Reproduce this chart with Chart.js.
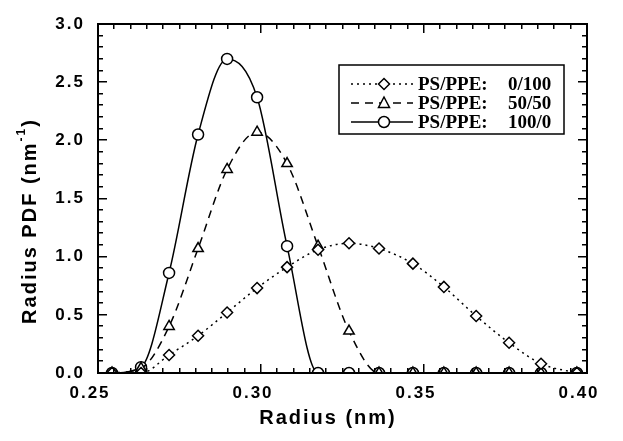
<!DOCTYPE html>
<html>
<head>
<meta charset="utf-8">
<script src="https://cdn.jsdelivr.net/npm/chart.js@4/dist/chart.umd.min.js"></script>
<style>
  html, body { margin: 0; padding: 0; background: #fff; }
  #wrap { width: 623px; height: 441px; }
</style>
</head>
<body>
<div id="wrap"><canvas id="myChart" width="623" height="441"></canvas></div>
<script>
// DATA
const radius = [0.2543, 0.2632, 0.2718, 0.2807, 0.2896, 0.2988, 0.3080, 0.3175,
                0.3270, 0.3362, 0.3466, 0.3561, 0.3660, 0.3761, 0.3859, 0.3969];
const pdf_0_100 = [0, 0, 0.155, 0.32, 0.52, 0.73, 0.91, 1.06, 1.115, 1.07, 0.94, 0.74, 0.49, 0.26, 0.08, 0];
const pdf_50_50 = [0, 0.04, 0.40, 1.07, 1.75, 2.07, 1.80, 1.09, 0.36, 0, 0, 0, 0, 0, 0, 0];
const pdf_100_0 = [0, 0.05, 0.86, 2.05, 2.70, 2.37, 1.09, 0, 0, 0, 0, 0, 0, 0, 0, 0];
const seriesNames = ['0/100', '50/50', '100/0'];
const xTicks = [0.25, 0.30, 0.35, 0.40];
const yTicks = [0.0, 0.5, 1.0, 1.5, 2.0, 2.5, 3.0];

function toPoints(vals) {
    return radius.map((r, i) => ({ x: r, y: vals[i] }));
}

// marker drawing for the legend box
function drawMarker(ctx, style, x, y) {
    ctx.save();
    ctx.fillStyle = '#fff';
    ctx.strokeStyle = '#000';
    ctx.lineWidth = 1.5;
    ctx.setLineDash([]);
    ctx.beginPath();
    if (style === 'circle') {
        ctx.arc(x, y, 5.5, 0, Math.PI * 2);
    } else if (style === 'triangle') {
        ctx.moveTo(x, y - 6);
        ctx.lineTo(x + 5.5, y + 4.5);
        ctx.lineTo(x - 5.5, y + 4.5);
        ctx.closePath();
    } else {
        ctx.moveTo(x, y - 5.5);
        ctx.lineTo(x + 5.5, y);
        ctx.lineTo(x, y + 5.5);
        ctx.lineTo(x - 5.5, y);
        ctx.closePath();
    }
    ctx.fill();
    ctx.stroke();
    ctx.restore();
}

// frame + inward ticks
const framePlugin = {
    id: 'frame',
    afterDraw(chart) {
        const ctx = chart.ctx;
        const a = chart.chartArea;
        const xs = chart.scales.x, ys = chart.scales.y;
        const L = Math.round(a.left), R = Math.round(a.right);
        const T = Math.round(a.top), B = Math.round(a.bottom);
        ctx.save();
        ctx.fillStyle = '#000';
        // box
        ctx.fillRect(L - 1, T - 1, R - L + 2, 2);
        ctx.fillRect(L - 1, B - 1, R - L + 2, 2);
        ctx.fillRect(L - 1, T - 1, 2, B - T + 2);
        ctx.fillRect(R - 1, T - 1, 2, B - T + 2);
        // x ticks: minor every 0.005, major every 0.05
        for (let i = 0; i <= 30; i++) {
            const px = Math.round(xs.getPixelForValue(0.25 + i * 0.005));
            const len = (i % 10 === 0) ? 9 : 5;
            ctx.fillRect(px - 1, B - len, 1.5, len);
            ctx.fillRect(px - 1, T, 1.5, len);
        }
        // y ticks: minor every 0.1, major every 0.5
        for (let i = 0; i <= 30; i++) {
            const py = Math.round(ys.getPixelForValue(i * 0.1));
            const len = (i % 5 === 0) ? 9 : 5;
            ctx.fillRect(L, py - 1, len, 1.5);
            ctx.fillRect(R - len, py - 1, len, 1.5);
        }
        ctx.restore();
    }
};

// axis titles and legend box
const decorPlugin = {
    id: 'decor',
    beforeDraw(chart) {
        chart.ctx.letterSpacing = '2px';
    },
    afterDraw(chart) {
        const ctx = chart.ctx;
        ctx.save();
        ctx.fillStyle = '#000';
        ctx.strokeStyle = '#000';
        ctx.letterSpacing = '2px';
        ctx.font = 'bold 20px "Liberation Sans", Arial, sans-serif';
        ctx.textAlign = 'center';
        ctx.textBaseline = 'middle';
        ctx.fillText('Radius (nm)', 328, 418);

        ctx.save();
        ctx.translate(30, 221);
        ctx.rotate(-Math.PI / 2);
        const main = 'Radius PDF (nm';
        const sup = '-1';
        const close = ')';
        ctx.font = 'bold 20px "Liberation Sans", Arial, sans-serif';
        const w1 = ctx.measureText(main).width;
        const w3 = ctx.measureText(close).width;
        ctx.font = 'bold 12px "Liberation Sans", Arial, sans-serif';
        const w2 = ctx.measureText(sup).width;
        const x0 = -(w1 + w2 + w3) / 2;
        ctx.textAlign = 'left';
        ctx.font = 'bold 20px "Liberation Sans", Arial, sans-serif';
        ctx.fillText(main, x0, 0);
        ctx.font = 'bold 12px "Liberation Sans", Arial, sans-serif';
        ctx.fillText(sup, x0 + w1, -8);
        ctx.font = 'bold 20px "Liberation Sans", Arial, sans-serif';
        ctx.fillText(close, x0 + w1 + w2, 0);
        ctx.restore();

        // legend box
        ctx.letterSpacing = '0px';
        ctx.lineWidth = 1.5;
        ctx.setLineDash([]);
        ctx.strokeRect(339, 65, 225, 69);
        const rows = [84, 103, 122];
        chart.data.datasets.forEach((ds, i) => {
            const y = rows[i];
            ctx.save();
            ctx.lineWidth = ds.borderWidth;
            ctx.setLineDash(ds.borderDash || []);
            ctx.beginPath();
            ctx.moveTo(351, y); ctx.lineTo(413, y);
            ctx.stroke();
            ctx.restore();
            drawMarker(ctx, ds.pointStyle, 384, y);
            ctx.fillStyle = '#000';
            ctx.font = 'bold 19px "Liberation Serif", "Times New Roman", serif';
            ctx.textAlign = 'left';
            ctx.textBaseline = 'middle';
            ctx.fillText('PS/PPE:', 418, y + 1);
            ctx.fillText(seriesNames[i], 508, y + 1);
        });
        ctx.restore();
    }
};

const tickFont = { family: '"Liberation Sans", Arial, sans-serif', size: 17, weight: 'bold' };

const ctx = document.getElementById('myChart').getContext('2d');
const myChart = new Chart(ctx, {
    type: 'line',
    data: {
        datasets: [
            {
                label: 'PS/PPE: ' + seriesNames[0],
                data: toPoints(pdf_0_100),
                borderColor: '#000',
                borderWidth: 1.5,
                borderDash: [2, 4],
                pointStyle: 'rectRot',
                pointRadius: 5.5,
                pointBackgroundColor: '#fff',
                pointBorderColor: '#000',
                pointBorderWidth: 1.5
            },
            {
                label: 'PS/PPE: ' + seriesNames[1],
                data: toPoints(pdf_50_50),
                borderColor: '#000',
                borderWidth: 1.5,
                borderDash: [8, 6],
                pointStyle: 'triangle',
                pointRadius: 6,
                pointBackgroundColor: '#fff',
                pointBorderColor: '#000',
                pointBorderWidth: 1.5
            },
            {
                label: 'PS/PPE: ' + seriesNames[2],
                data: toPoints(pdf_100_0),
                borderColor: '#000',
                borderWidth: 1.5,
                pointStyle: 'circle',
                pointRadius: 5.5,
                pointBackgroundColor: '#fff',
                pointBorderColor: '#000',
                pointBorderWidth: 1.5
            }
        ]
    },
    options: {
        responsive: false,
        animation: false,
        devicePixelRatio: 1,
        layout: { padding: { top: 24, right: 36, left: 0, bottom: 0 } },
        plugins: {
            legend: { display: false },
            tooltip: { enabled: false }
        },
        elements: { line: { cubicInterpolationMode: 'monotone' } },
        scales: {
            x: {
                type: 'linear',
                min: 0.25,
                max: 0.40,
                afterBuildTicks: s => { s.ticks = xTicks.map(v => ({ value: v })); },
                afterFit: s => { s.height = 68; },
                grid: { display: false, drawTicks: false },
                border: { display: false },
                ticks: {
                    font: tickFont,
                    color: '#000',
                    padding: 10,
                    labelOffset: -8,
                    maxRotation: 0,
                    callback: v => v.toFixed(2)
                }
            },
            y: {
                type: 'linear',
                min: 0,
                max: 3.0,
                afterBuildTicks: s => { s.ticks = yTicks.map(v => ({ value: v })); },
                afterFit: s => { s.width = 98; },
                grid: { display: false, drawTicks: false },
                border: { display: false },
                ticks: {
                    font: tickFont,
                    color: '#000',
                    padding: 13,
                    callback: v => v.toFixed(1)
                }
            }
        }
    },
    plugins: [framePlugin, decorPlugin]
});
</script>
</body>
</html>
